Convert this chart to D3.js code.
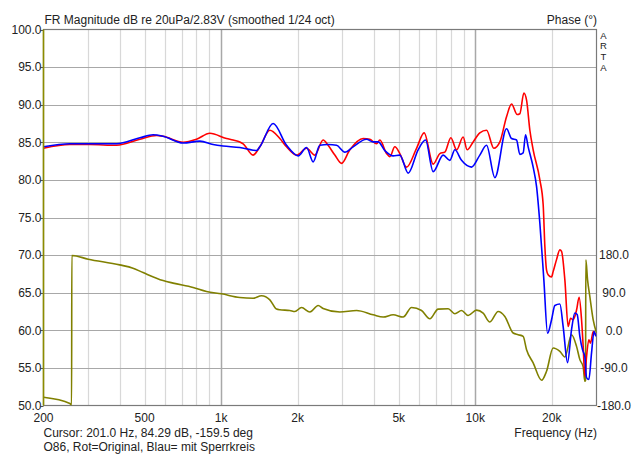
<!DOCTYPE html>
<html>
<head>
<meta charset="utf-8">
<script src="https://cdn.jsdelivr.net/npm/d3@7/dist/d3.min.js"></script>
<style>
  html, body { margin: 0; padding: 0; background: #ffffff; }
  svg text { font-family: "Liberation Sans", Arial, sans-serif; fill: #222; }
</style>
</head>
<body>
<svg id="chart" width="640" height="455"></svg>
<script>
// ---- data ----
const xTickValues = [200, 500, 1000, 2000, 5000, 10000, 20000];
const xTickLabels = ["200", "500", "1k", "2k", "5k", "10k", "20k"];
const yTickValues = [100, 95, 90, 85, 80, 75, 70, 65, 60, 55, 50];
const phaseTickValues = [180, 90, 0, -90, -180];

const redFreq = [200, 254, 304, 388, 479, 557, 591, 709, 800, 903, 1050, 1115, 1185, 1221, 1336, 1420, 1555, 1702, 1809, 1980, 2169, 2338, 2520, 2636, 2802, 2978, 3210, 3620, 3848, 4090, 4214, 4478, 4612, 4826, 5049, 5366, 5875, 6294, 6829, 7256, 7592, 8017, 8443, 8961, 9290, 9811, 10423, 11078, 11834, 12498, 13278, 13894, 14618, 14978, 15534, 15918, 16402, 16900, 17960, 18504, 18792, 19078, 19356, 19964, 20254, 20886, 21524, 21858, 22523, 23202, 23720, 24280, 25038, 25634, 26200, 26584, 26996, 27410, 27990, 28420, 29104, 29740];
const redDb = [84.2, 84.7, 84.7, 84.6, 85.4, 85.9, 85.8, 85.0, 85.4, 86.2, 85.5, 85.3, 85.05, 84.8, 83.3, 84.4, 86.6, 85.5, 84.4, 83.3, 84.2, 83.3, 85.3, 84.6, 83.3, 82.2, 84.0, 85.5, 85.4, 84.8, 85.3, 83.5, 83.1, 84.4, 83.5, 81.7, 84.2, 86.25, 82.1, 83.5, 83.7, 85.6, 84.0, 85.7, 84.0, 85.05, 86.25, 86.6, 84.2, 85.05, 88.4, 90.1, 88.7, 88.8, 91.55, 90.6, 86.6, 84.0, 80.0, 76.7, 71.1, 68.0, 67.4, 67.1, 67.8, 69.4, 70.7, 70.5, 66.7, 60.5, 61.6, 61.4, 62.7, 64.4, 61.4, 57.9, 53.9, 56.5, 58.75, 58.3, 59.85, 59.4];

const blueFreq = [200, 254, 304, 388, 479, 540, 591, 709, 825, 930, 1018, 1185, 1336, 1378, 1420, 1602, 1809, 2010, 2169, 2303, 2446, 2636, 2846, 3068, 3308, 3734, 3965, 4150, 4409, 4752, 5049, 5445, 5960, 6374, 6829, 7476, 7944, 8315, 8831, 9670, 10423, 11078, 11944, 13278, 13894, 14540, 14978, 15434, 15776, 16150, 16900, 17430, 17960, 18620, 19254, 19964, 20570, 21524, 22178, 23070, 23928, 24654, 25180, 25800, 26438, 26996, 27410, 27990, 28684, 29340, 29820];
const blueDb = [84.4, 84.8, 84.8, 84.8, 85.6, 86.0, 85.8, 84.9, 85.15, 84.7, 84.5, 84.3, 83.95, 83.9, 84.4, 87.5, 84.6, 83.2, 84.3, 82.4, 84.6, 84.7, 84.6, 83.7, 84.4, 85.4, 85.05, 85.05, 83.9, 83.2, 83.3, 80.9, 84.0, 85.3, 81.1, 83.3, 82.6, 84.0, 82.6, 81.7, 83.3, 84.6, 80.3, 86.8, 85.5, 85.3, 83.4, 83.6, 86.0, 84.4, 81.7, 79.1, 74.2, 66.7, 59.6, 61.4, 63.3, 63.5, 60.5, 55.7, 60.1, 62.3, 62.1, 59.2, 57.4, 56.5, 53.7, 53.45, 57.0, 59.85, 59.2];

const phaseFreq = [200, 254, 258, 258.5, 300, 399, 450, 493, 591, 647, 776, 876, 1003, 1185, 1336, 1442, 1555, 1652, 1702, 1864, 1950, 2072, 2235, 2409, 2520, 2932, 3412, 3965, 4343, 4752, 5203, 5616, 6148, 6628, 7146, 7822, 8315, 8831, 9376, 10116, 10740, 11414, 12306, 13074, 14098, 14752, 15434, 15918, 16900, 18240, 19078, 20254, 21524, 22523, 23928, 25038, 25800, 26584, 26996, 27164, 27238, 27666, 28244, 29104, 30000];
const phaseDeg = [-160.2, -175, -179, 179, 170.2, 156.6, 148.7, 138.2, 119.1, 112.9, 102.4, 92.8, 87.3, 78.5, 76.8, 82.6, 73, 50.8, 49.1, 47.5, 45.1, 54.6, 43.7, 59.4, 52.3, 43.7, 47.5, 37.2, 31.7, 37.2, 31.7, 54.6, 47.5, 27.7, 50.8, 51.5, 39.6, 47.5, 35.5, 48.4, 41.3, 19.8, 45.1, 33.2, -6.5, -10.5, -14.6, -46.3, -78.1, -119.6, -98.1, -42.3, -50.4, -63.8, -10.5, -38.5, -70.2, -87.6, -122, -120, 168.5, 120.8, 80.9, 25.3, -6.5];

// ---- layout ----
const L = 43.5, R = 596.5, T = 29.5, B = 405.5;
const svg = d3.select("#chart");

const x = d3.scaleLog().domain([200, 30000]).range([L, R]);
const y = d3.scaleLinear().domain([50, 100]).range([B, T]);
const yPhase = d3.scaleLinear().domain([-180, 720]).range([B, T]);

// vertical grid
const gridFreqs = x.ticks().filter(f => f > 200 && f < 30000);
svg.append("g").selectAll("line").data(gridFreqs).join("line")
  .attr("x1", d => Math.round(x(d)) + 0.5).attr("x2", d => Math.round(x(d)) + 0.5)
  .attr("y1", T).attr("y2", B)
  .attr("stroke", d => (d === 1000 || d === 10000) ? "#a8a8a8" : "#d8d8d8")
  .attr("stroke-width", d => (d === 1000 || d === 10000) ? 1.5 : 1.2);

// horizontal grid
svg.append("g").selectAll("line").data(yTickValues.filter(v => v > 50 && v < 100)).join("line")
  .attr("x1", L).attr("x2", R)
  .attr("y1", d => Math.round(y(d)) + 0.5).attr("y2", d => Math.round(y(d)) + 0.5)
  .attr("stroke", "#a8a8a8").attr("stroke-width", 1.2);

// frame
svg.append("rect").attr("x", L).attr("y", T).attr("width", R - L).attr("height", B - T)
  .attr("fill", "none").attr("stroke", "#7a7a7a").attr("stroke-width", 1.2);

// left ticks
svg.append("g").selectAll("line").data(yTickValues).join("line")
  .attr("x1", L - 3).attr("x2", L)
  .attr("y1", d => Math.round(y(d)) + 0.5).attr("y2", d => Math.round(y(d)) + 0.5)
  .attr("stroke", "#555");

// clip
svg.append("clipPath").attr("id", "plotclip").append("rect")
  .attr("x", L).attr("y", T).attr("width", R - L).attr("height", B - T);

const plot = svg.append("g").attr("clip-path", "url(#plotclip)");

const mkLine = (fy) => d3.line().x(d => x(d[0])).y(d => fy(d[1])).curve(d3.curveMonotoneX);

const phasePts = phaseFreq.map((f, i) => [f, phaseDeg[i]]);
const redPts = redFreq.map((f, i) => [f, redDb[i]]);
const bluePts = blueFreq.map((f, i) => [f, blueDb[i]]);

plot.append("path").attr("d", mkLine(yPhase)(phasePts))
  .attr("fill", "none").attr("stroke", "#808000").attr("stroke-width", 1.6);
plot.append("path").attr("d", mkLine(y)(redPts))
  .attr("fill", "none").attr("stroke", "#ff0000").attr("stroke-width", 1.6);
plot.append("path").attr("d", mkLine(y)(bluePts))
  .attr("fill", "none").attr("stroke", "#0000ff").attr("stroke-width", 1.6);

// olive left border
svg.append("line").attr("x1", L).attr("x2", L).attr("y1", T).attr("y2", B)
  .attr("stroke", "#8c8c00").attr("stroke-width", 1.6);

// left labels
svg.append("g").selectAll("text").data(yTickValues).join("text")
  .attr("x", L - 2).attr("y", d => y(d)).attr("dy", "0.35em")
  .attr("text-anchor", "end").attr("font-size", 12)
  .text(d => d.toFixed(1));

// right phase labels
svg.append("g").selectAll("text").data(phaseTickValues).join("text")
  .attr("x", 614).attr("y", d => yPhase(d)).attr("dy", "0.35em")
  .attr("text-anchor", "middle").attr("font-size", 12)
  .text(d => d.toFixed(1));

// x labels
svg.append("g").selectAll("text").data(xTickValues).join("text")
  .attr("x", d => x(d)).attr("y", 418).attr("dy", "0.35em")
  .attr("text-anchor", "middle").attr("font-size", 12)
  .text((d, i) => xTickLabels[i]);

// titles
svg.append("text").attr("x", 44.5).attr("y", 24).attr("font-size", 12)
  .text("FR Magnitude dB re 20uPa/2.83V (smoothed 1/24 oct)");
svg.append("text").attr("x", 597).attr("y", 24).attr("text-anchor", "end").attr("font-size", 12)
  .text("Phase (°)");
["A", "R", "T", "A"].forEach((c, i) => {
  svg.append("text").attr("x", 603.5).attr("y", 38.5 + i * 10.9).attr("text-anchor", "middle")
    .attr("font-size", 9.5).text(c);
});
svg.append("text").attr("x", 43.5).attr("y", 433).attr("dy", "0.35em").attr("font-size", 12)
  .text("Cursor: 201.0 Hz, 84.29 dB, -159.5 deg");
svg.append("text").attr("x", 43.5).attr("y", 447).attr("dy", "0.35em").attr("font-size", 12)
  .text("O86, Rot=Original, Blau= mit Sperrkreis");
svg.append("text").attr("x", 597).attr("y", 433).attr("dy", "0.35em").attr("text-anchor", "end").attr("font-size", 12)
  .text("Frequency (Hz)");
</script>
</body>
</html>
